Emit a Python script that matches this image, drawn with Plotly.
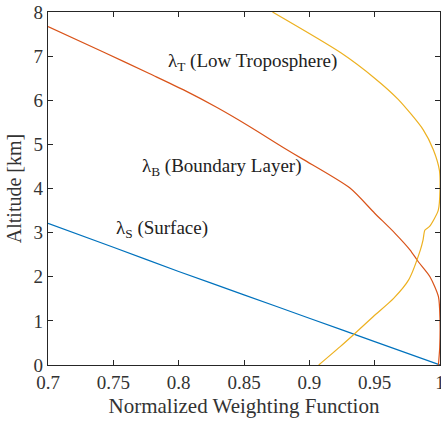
import plotly.graph_objects as go

# Surface weighting function
surf_x = [0.700, 0.750, 0.800, 0.850, 0.900, 0.950, 1.000]
surf_alt = [3.21, 2.67, 2.12, 1.59, 1.06, 0.53, 0.0]

# Boundary layer weighting function
bl_x = [0.700, 0.7419, 0.7779, 0.8034, 0.829, 0.8545, 0.880, 0.8953, 0.9311, 0.950,
        0.9654, 0.977, 0.9834, 0.9923, 0.9988, 1.000, 0.9998, 0.9988]
bl_alt = [7.67, 7.10, 6.60, 6.24, 5.84, 5.40, 4.93, 4.66, 4.01, 3.44,
          2.99, 2.61, 2.34, 2.00, 1.55, 1.02, 0.41, 0.0]

# Low troposphere weighting function
lt_x = [0.9072, 0.9234, 0.9336, 0.949, 0.9645, 0.976, 0.985, 0.987, 0.9885, 0.992,
        0.9987, 1.000, 0.9995, 0.9949, 0.9872, 0.968, 0.950, 0.9244, 0.8718]
lt_alt = [0.0, 0.41, 0.68, 1.10, 1.51, 1.93, 2.61, 2.83, 3.06, 3.14,
          3.51, 3.97, 4.42, 4.88, 5.33, 6.02, 6.50, 7.07, 8.0]

x_ticks = [0.7, 0.75, 0.8, 0.85, 0.9, 0.95, 1.0]
x_tick_labels = ["0.7", "0.75", "0.8", "0.85", "0.9", "0.95", "1"]
y_ticks = [0, 1, 2, 3, 4, 5, 6, 7, 8]

FONT = "Liberation Serif"

fig = go.Figure()
fig.add_trace(go.Scatter(x=surf_x, y=surf_alt, mode="lines", line_shape="spline",
                         line=dict(color="#0072BD", width=1.2, smoothing=0.5)))
fig.add_trace(go.Scatter(x=bl_x, y=bl_alt, mode="lines", line_shape="spline",
                         line=dict(color="#D95319", width=1.2, smoothing=0.7)))
fig.add_trace(go.Scatter(x=lt_x, y=lt_alt, mode="lines", line_shape="spline",
                         line=dict(color="#EDB120", width=1.2, smoothing=0.7)))

ann_font = dict(family=FONT, size=19, color="#222222")
fig.add_annotation(x=0.7905, y=6.87, text="λ<sub>T</sub> (Low Troposphere)",
                   showarrow=False, xanchor="left", yanchor="middle", font=ann_font)
fig.add_annotation(x=0.7706, y=4.49, text="λ<sub>B</sub> (Boundary Layer)",
                   showarrow=False, xanchor="left", yanchor="middle", font=ann_font)
fig.add_annotation(x=0.7506, y=3.08, text="λ<sub>S</sub> (Surface)",
                   showarrow=False, xanchor="left", yanchor="middle", font=ann_font)

axis_common = dict(showline=True, linecolor="#262626", linewidth=1.2, mirror="ticks",
                   ticks="inside", ticklen=5, tickcolor="#262626", tickwidth=1,
                   showgrid=False, zeroline=False,
                   tickfont=dict(family=FONT, size=19, color="#333333"))

fig.update_xaxes(range=[0.7, 1.0], tickvals=x_ticks, ticktext=x_tick_labels,
                 ticklabeloverflow="allow",
                 title=dict(text="Normalized Weighting Function",
                            font=dict(family=FONT, size=21, color="#333333"), standoff=6),
                 **axis_common)
fig.update_yaxes(range=[0, 8], tickvals=y_ticks,
                 title=dict(text="Altitude [km]",
                            font=dict(family=FONT, size=20, color="#333333"), standoff=6),
                 **axis_common)

fig.update_layout(width=441, height=421, showlegend=False,
                  margin=dict(l=48, r=1, t=12, b=56, autoexpand=False),
                  plot_bgcolor="white", paper_bgcolor="white")

fig.write_html("out.html", config={"displayModeBar": False},
               post_script="document.body.style.margin='0';document.body.style.overflow='hidden';")
